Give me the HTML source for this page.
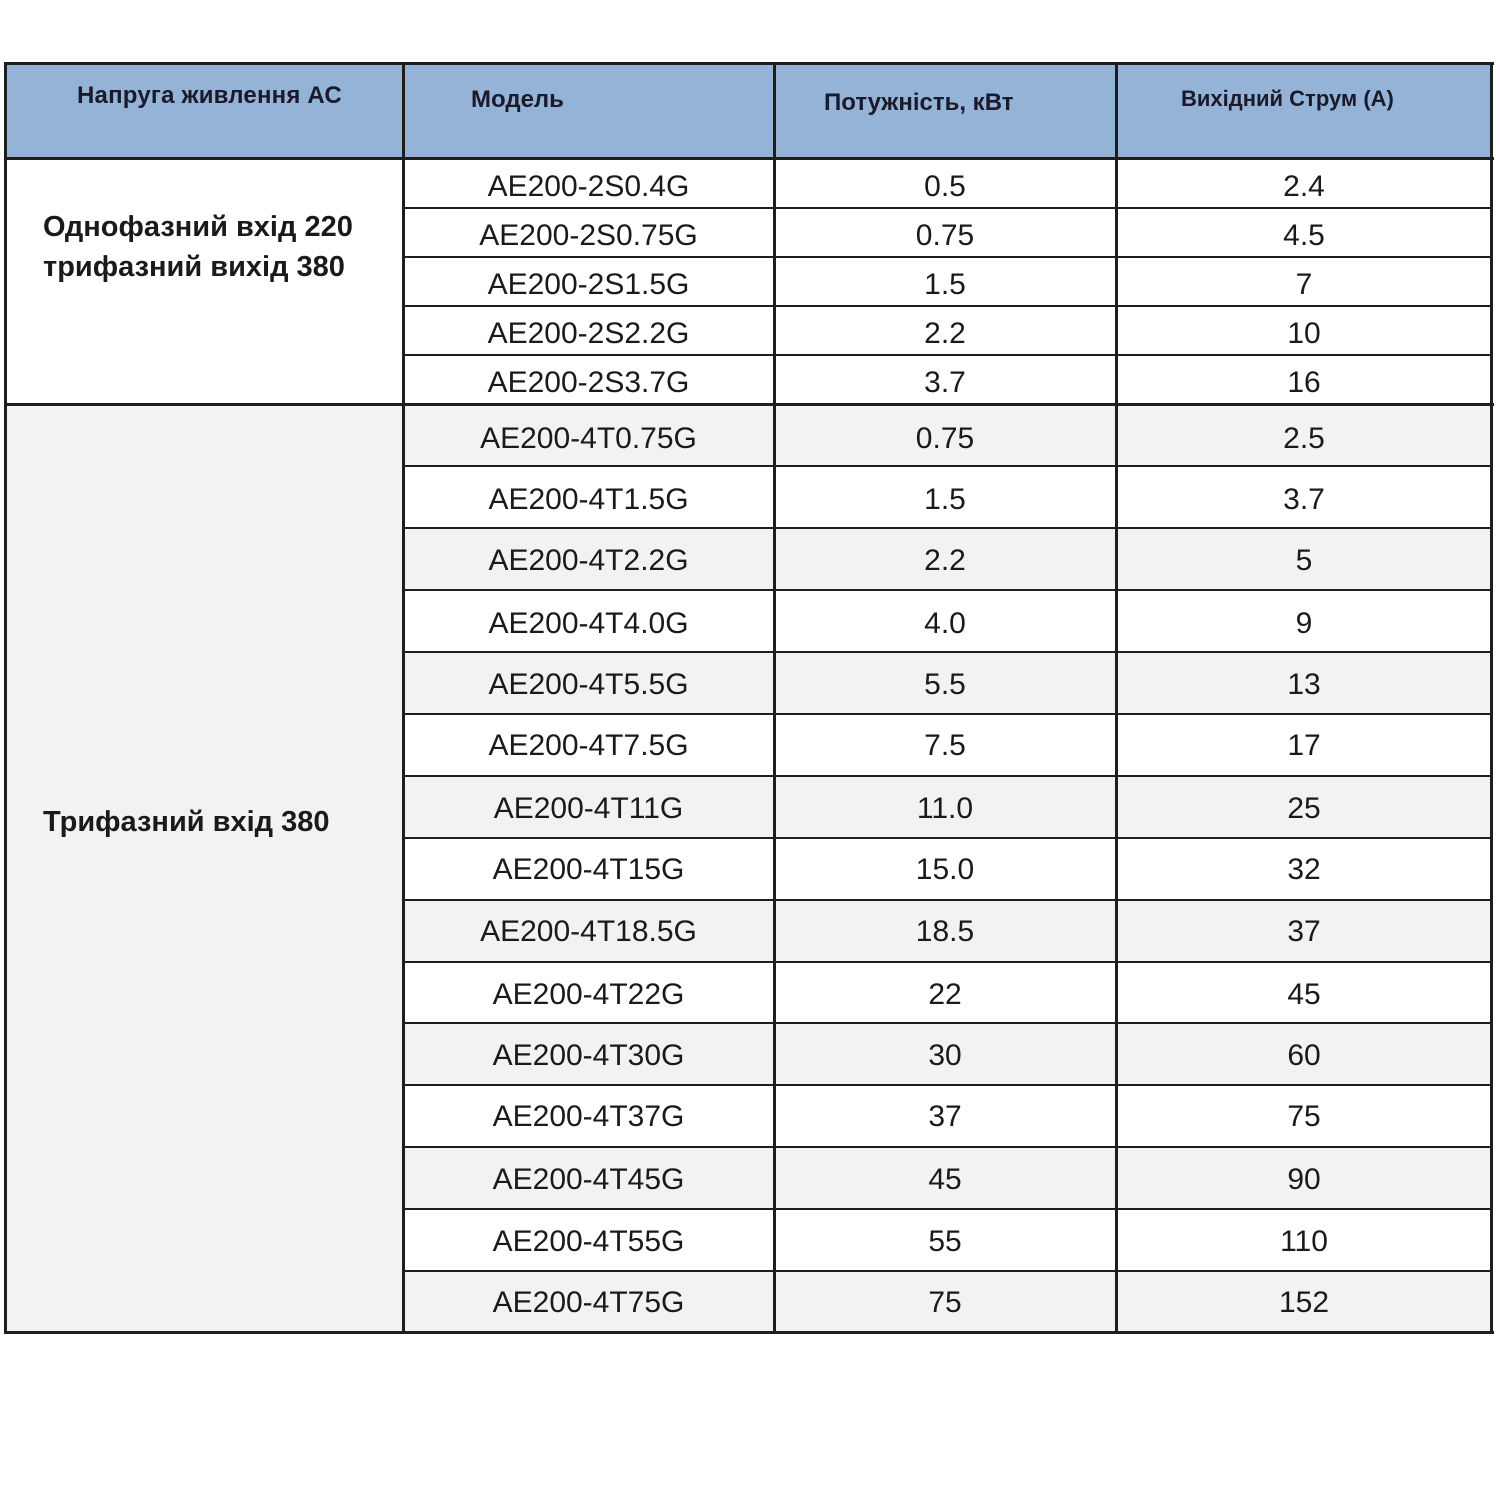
<!DOCTYPE html>
<html><head><meta charset="utf-8"><style>
body{margin:0;width:1500px;height:1500px;background:#fff;position:relative;overflow:hidden;font-family:"Liberation Sans",sans-serif;color:#1a1a1a}
.c{position:absolute;text-align:center;font-size:30px;white-space:nowrap;margin-top:-2px}
.h{position:absolute;font-weight:bold;font-size:24px;white-space:nowrap;color:#1a1a2a;margin-top:-2px}
.l{position:absolute;background:#1e1e1e}
.g{position:absolute;background:#f2f2f2}
</style></head><body>
<div style="position:absolute;left:5px;top:63px;width:1487px;height:95px;background:#95b3d7"></div>
<div class="g" style="left:5px;top:404px;width:398px;height:928px"></div>
<div class="g" style="left:403px;top:404px;width:1089px;height:62px"></div>
<div class="g" style="left:403px;top:528px;width:1089px;height:62px"></div>
<div class="g" style="left:403px;top:652px;width:1089px;height:62px"></div>
<div class="g" style="left:403px;top:776px;width:1089px;height:62px"></div>
<div class="g" style="left:403px;top:900px;width:1089px;height:62px"></div>
<div class="g" style="left:403px;top:1023px;width:1089px;height:62px"></div>
<div class="g" style="left:403px;top:1147px;width:1089px;height:62px"></div>
<div class="g" style="left:403px;top:1271px;width:1089px;height:62px"></div>

<div class="l" style="left:4px;top:62px;width:1490px;height:3px"></div>
<div class="l" style="left:4px;top:157px;width:1490px;height:3px"></div>
<div class="l" style="left:4px;top:403px;width:1490px;height:3px"></div>
<div class="l" style="left:4px;top:1331px;width:1490px;height:3px"></div>
<div class="l" style="left:4px;top:62px;width:3px;height:1272px"></div>
<div class="l" style="left:402px;top:62px;width:3px;height:1272px"></div>
<div class="l" style="left:773px;top:62px;width:3px;height:1272px"></div>
<div class="l" style="left:1115px;top:62px;width:3px;height:1272px"></div>
<div class="l" style="left:1490px;top:62px;width:3px;height:1272px"></div>
<div class="l" style="left:403px;top:207px;width:1089px;height:2px"></div>
<div class="l" style="left:403px;top:256px;width:1089px;height:2px"></div>
<div class="l" style="left:403px;top:305px;width:1089px;height:2px"></div>
<div class="l" style="left:403px;top:354px;width:1089px;height:2px"></div>
<div class="l" style="left:403px;top:465px;width:1089px;height:2px"></div>
<div class="l" style="left:403px;top:527px;width:1089px;height:2px"></div>
<div class="l" style="left:403px;top:589px;width:1089px;height:2px"></div>
<div class="l" style="left:403px;top:651px;width:1089px;height:2px"></div>
<div class="l" style="left:403px;top:713px;width:1089px;height:2px"></div>
<div class="l" style="left:403px;top:775px;width:1089px;height:2px"></div>
<div class="l" style="left:403px;top:837px;width:1089px;height:2px"></div>
<div class="l" style="left:403px;top:899px;width:1089px;height:2px"></div>
<div class="l" style="left:403px;top:961px;width:1089px;height:2px"></div>
<div class="l" style="left:403px;top:1022px;width:1089px;height:2px"></div>
<div class="l" style="left:403px;top:1084px;width:1089px;height:2px"></div>
<div class="l" style="left:403px;top:1146px;width:1089px;height:2px"></div>
<div class="l" style="left:403px;top:1208px;width:1089px;height:2px"></div>
<div class="l" style="left:403px;top:1270px;width:1089px;height:2px"></div>

<div class="h" style="left:77px;top:84px;font-size:24px;letter-spacing:0.2px">Напруга живлення АС</div>
<div class="h" style="left:471px;top:88px">Модель</div>
<div class="h" style="left:824px;top:91px">Потужність, кВт</div>
<div class="h" style="left:1181px;top:88px;font-size:22px">Вихідний Струм (А)</div>

<div style="position:absolute;left:43px;top:207px;font-weight:bold;font-size:29px;line-height:40px;white-space:nowrap">Однофазний вхід 220<br>трифазний вихід 380</div>
<div style="position:absolute;left:43px;top:806px;font-weight:bold;font-size:29px;white-space:nowrap">Трифазний вхід 380</div>

<div class="c" style="left:403px;width:371px;top:172px">AE200-2S0.4G</div><div class="c" style="left:774px;width:342px;top:172px">0.5</div><div class="c" style="left:1116px;width:376px;top:172px">2.4</div>
<div class="c" style="left:403px;width:371px;top:221px">AE200-2S0.75G</div><div class="c" style="left:774px;width:342px;top:221px">0.75</div><div class="c" style="left:1116px;width:376px;top:221px">4.5</div>
<div class="c" style="left:403px;width:371px;top:270px">AE200-2S1.5G</div><div class="c" style="left:774px;width:342px;top:270px">1.5</div><div class="c" style="left:1116px;width:376px;top:270px">7</div>
<div class="c" style="left:403px;width:371px;top:319px">AE200-2S2.2G</div><div class="c" style="left:774px;width:342px;top:319px">2.2</div><div class="c" style="left:1116px;width:376px;top:319px">10</div>
<div class="c" style="left:403px;width:371px;top:368px">AE200-2S3.7G</div><div class="c" style="left:774px;width:342px;top:368px">3.7</div><div class="c" style="left:1116px;width:376px;top:368px">16</div>

<div class="c" style="left:403px;width:371px;top:424px">AE200-4T0.75G</div><div class="c" style="left:774px;width:342px;top:424px">0.75</div><div class="c" style="left:1116px;width:376px;top:424px">2.5</div>
<div class="c" style="left:403px;width:371px;top:485px">AE200-4T1.5G</div><div class="c" style="left:774px;width:342px;top:485px">1.5</div><div class="c" style="left:1116px;width:376px;top:485px">3.7</div>
<div class="c" style="left:403px;width:371px;top:546px">AE200-4T2.2G</div><div class="c" style="left:774px;width:342px;top:546px">2.2</div><div class="c" style="left:1116px;width:376px;top:546px">5</div>
<div class="c" style="left:403px;width:371px;top:609px">AE200-4T4.0G</div><div class="c" style="left:774px;width:342px;top:609px">4.0</div><div class="c" style="left:1116px;width:376px;top:609px">9</div>
<div class="c" style="left:403px;width:371px;top:670px">AE200-4T5.5G</div><div class="c" style="left:774px;width:342px;top:670px">5.5</div><div class="c" style="left:1116px;width:376px;top:670px">13</div>
<div class="c" style="left:403px;width:371px;top:731px">AE200-4T7.5G</div><div class="c" style="left:774px;width:342px;top:731px">7.5</div><div class="c" style="left:1116px;width:376px;top:731px">17</div>
<div class="c" style="left:403px;width:371px;top:794px">AE200-4T11G</div><div class="c" style="left:774px;width:342px;top:794px">11.0</div><div class="c" style="left:1116px;width:376px;top:794px">25</div>
<div class="c" style="left:403px;width:371px;top:855px">AE200-4T15G</div><div class="c" style="left:774px;width:342px;top:855px">15.0</div><div class="c" style="left:1116px;width:376px;top:855px">32</div>
<div class="c" style="left:403px;width:371px;top:917px">AE200-4T18.5G</div><div class="c" style="left:774px;width:342px;top:917px">18.5</div><div class="c" style="left:1116px;width:376px;top:917px">37</div>
<div class="c" style="left:403px;width:371px;top:980px">AE200-4T22G</div><div class="c" style="left:774px;width:342px;top:980px">22</div><div class="c" style="left:1116px;width:376px;top:980px">45</div>
<div class="c" style="left:403px;width:371px;top:1041px">AE200-4T30G</div><div class="c" style="left:774px;width:342px;top:1041px">30</div><div class="c" style="left:1116px;width:376px;top:1041px">60</div>
<div class="c" style="left:403px;width:371px;top:1102px">AE200-4T37G</div><div class="c" style="left:774px;width:342px;top:1102px">37</div><div class="c" style="left:1116px;width:376px;top:1102px">75</div>
<div class="c" style="left:403px;width:371px;top:1165px">AE200-4T45G</div><div class="c" style="left:774px;width:342px;top:1165px">45</div><div class="c" style="left:1116px;width:376px;top:1165px">90</div>
<div class="c" style="left:403px;width:371px;top:1227px">AE200-4T55G</div><div class="c" style="left:774px;width:342px;top:1227px">55</div><div class="c" style="left:1116px;width:376px;top:1227px">110</div>
<div class="c" style="left:403px;width:371px;top:1288px">AE200-4T75G</div><div class="c" style="left:774px;width:342px;top:1288px">75</div><div class="c" style="left:1116px;width:376px;top:1288px">152</div>
</body></html>
